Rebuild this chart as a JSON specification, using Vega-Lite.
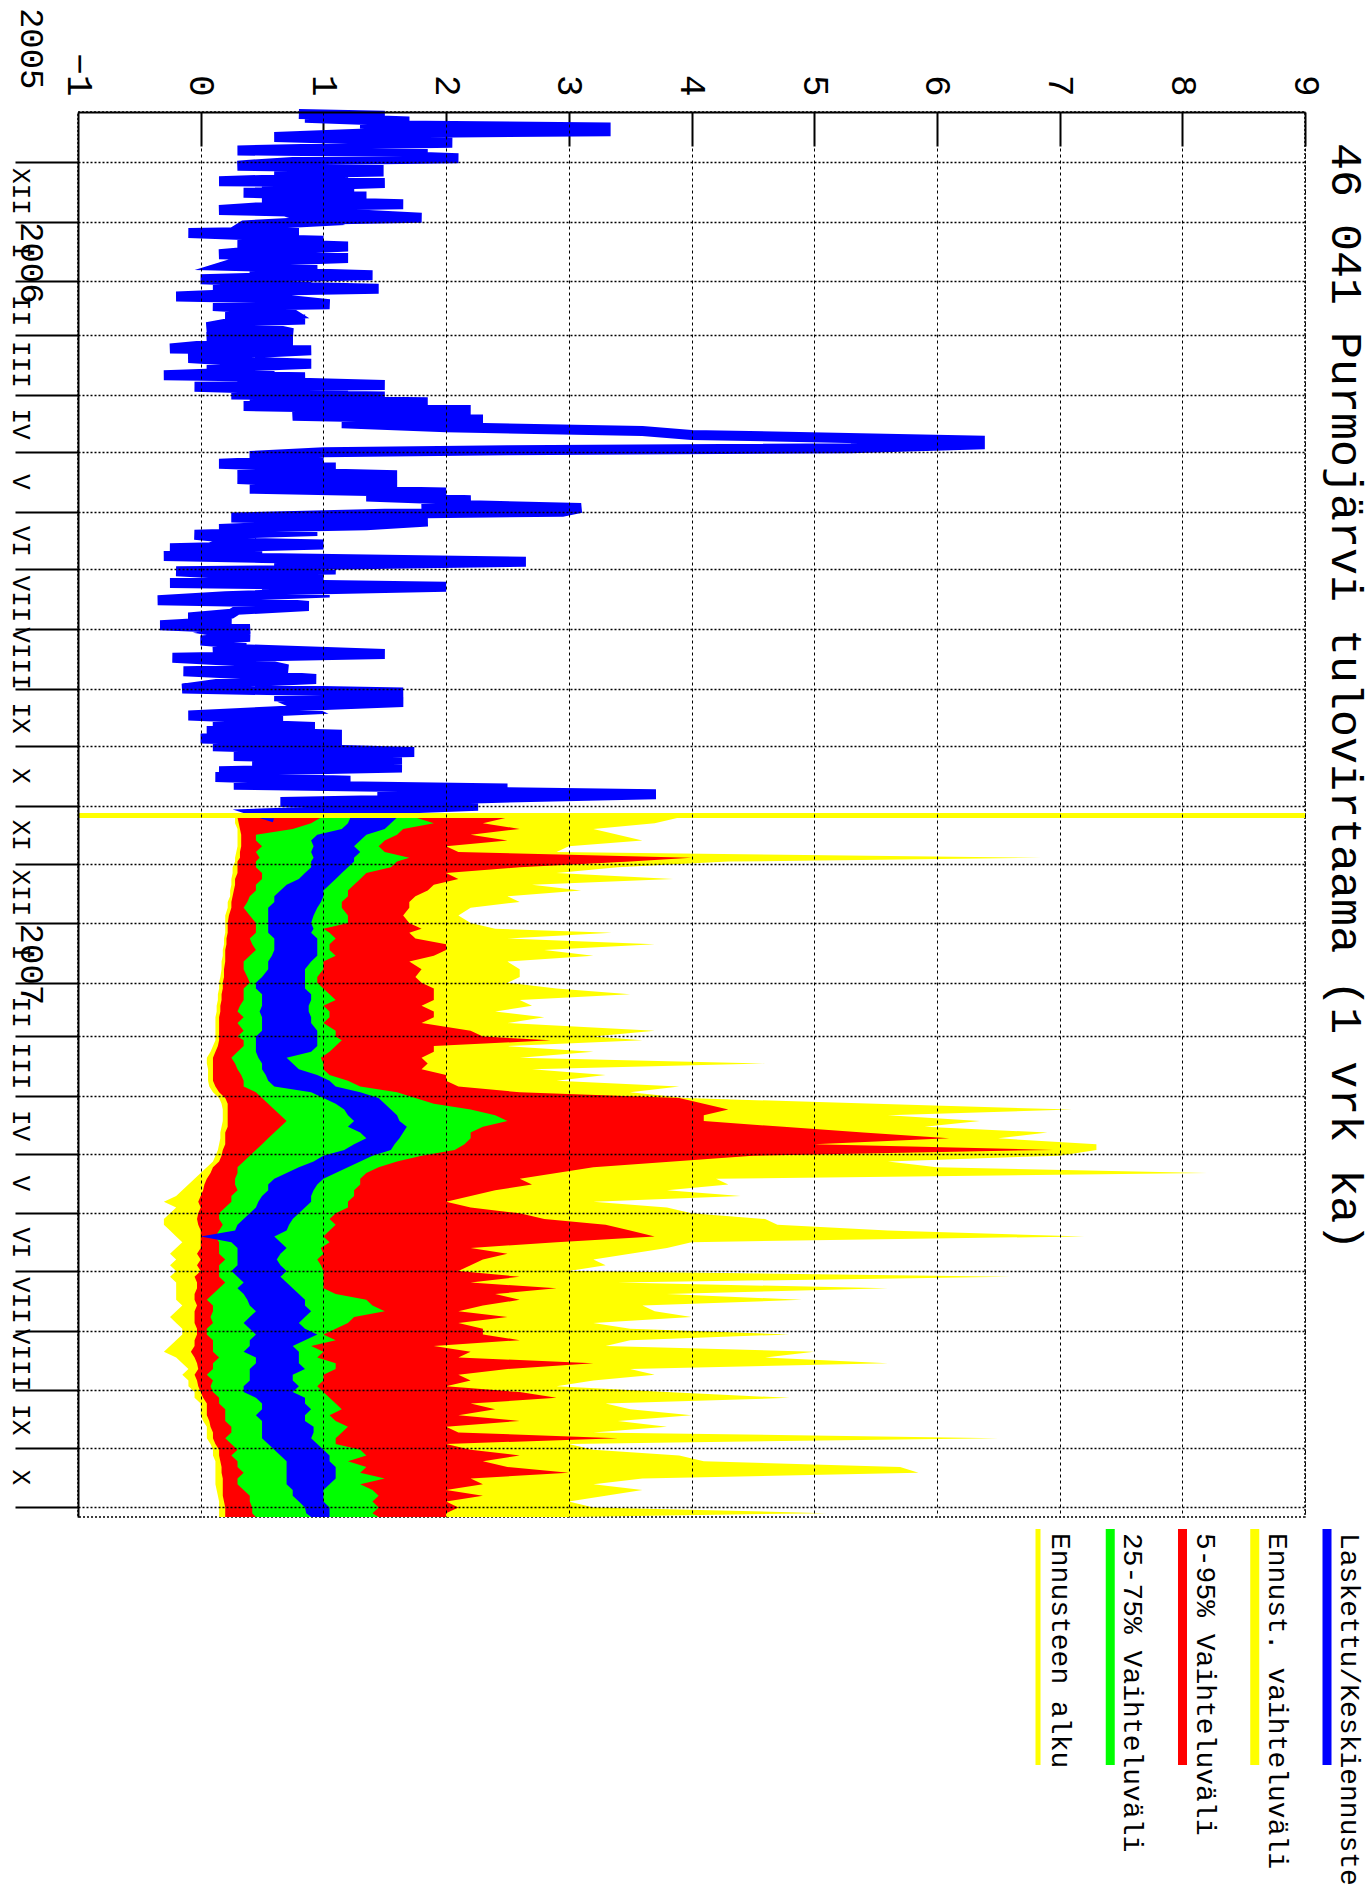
{
"$schema": "https://vega.github.io/schema/vega-lite/v6.json",
"background": "white",
"autosize": {"type": "pad"},
"padding": {"left": 6, "top": 6, "right": 0, "bottom": 0},
"spacing": 12,
"bounds": "flush",
"config": {"font": "Liberation Mono", "view": {"stroke": "black", "strokeDash": [2, 2], "strokeWidth": 1.5}},
"datasets": {
"hist": [
{"d":"2005-11-06","v":0.8},{"d":"2005-11-07","v":1.5},{"d":"2005-11-08","v":0.85},{"d":"2005-11-10","v":1.7},{"d":"2005-11-11","v":1.3},{"d":"2005-11-12","v":1.6},{"d":"2005-11-13","v":3.3},{"d":"2005-11-15","v":3.3},{"d":"2005-11-16","v":1.4},{"d":"2005-11-18","v":0.6},{"d":"2005-11-19","v":1.2},{"d":"2005-11-21","v":2.05},{"d":"2005-11-22","v":1.0},{"d":"2005-11-23","v":1.8},{"d":"2005-11-25","v":0.3},{"d":"2005-11-26","v":1.85},{"d":"2005-11-27","v":1.2},{"d":"2005-11-29","v":2.1},{"d":"2005-11-30","v":1.0},
{"d":"2005-12-02","v":0.5},{"d":"2005-12-03","v":0.3},{"d":"2005-12-04","v":1.45},{"d":"2005-12-06","v":1.45},{"d":"2005-12-07","v":0.6},{"d":"2005-12-09","v":1.2},{"d":"2005-12-11","v":0.15},{"d":"2005-12-12","v":1.5},{"d":"2005-12-14","v":0.5},{"d":"2005-12-16","v":1.25},{"d":"2005-12-17","v":0.35},{"d":"2005-12-19","v":1.35},{"d":"2005-12-21","v":0.5},{"d":"2005-12-23","v":1.65},{"d":"2005-12-24","v":0.6},{"d":"2005-12-26","v":0.15},{"d":"2005-12-27","v":0.9},{"d":"2005-12-30","v":1.8},{"d":"2005-12-31","v":0.9},
{"d":"2006-01-01","v":0.95},{"d":"2006-01-03","v":0.35},{"d":"2006-01-05","v":0.3},{"d":"2006-01-06","v":0.8},{"d":"2006-01-07","v":-0.1},{"d":"2006-01-09","v":0.8},{"d":"2006-01-10","v":0.4},{"d":"2006-01-11","v":1.0},{"d":"2006-01-12","v":0.3},{"d":"2006-01-14","v":1.2},{"d":"2006-01-16","v":0.5},{"d":"2006-01-18","v":0.15},{"d":"2006-01-19","v":0.8},{"d":"2006-01-20","v":1.2},{"d":"2006-01-22","v":0.3},{"d":"2006-01-24","v":0.2},{"d":"2006-01-25","v":0.95},{"d":"2006-01-27","v":0.4},{"d":"2006-01-29","v":1.4},{"d":"2006-01-30","v":0.6},{"d":"2006-01-31","v":0.0},
{"d":"2006-02-02","v":0.9},{"d":"2006-02-03","v":0.1},{"d":"2006-02-05","v":1.45},{"d":"2006-02-06","v":0.5},{"d":"2006-02-08","v":0.2},{"d":"2006-02-09","v":-0.2},{"d":"2006-02-10","v":0.6},{"d":"2006-02-13","v":1.05},{"d":"2006-02-14","v":0.1},{"d":"2006-02-16","v":0.7},{"d":"2006-02-18","v":0.75},{"d":"2006-02-19","v":0.2},{"d":"2006-02-21","v":0.85},{"d":"2006-02-22","v":0.3},{"d":"2006-02-25","v":0.05},{"d":"2006-02-26","v":0.6},{"d":"2006-02-28","v":0.75},
{"d":"2006-03-01","v":0.2},{"d":"2006-03-02","v":0.05},{"d":"2006-03-03","v":0.5},{"d":"2006-03-04","v":0.75},{"d":"2006-03-06","v":0.1},{"d":"2006-03-08","v":-0.25},{"d":"2006-03-09","v":0.9},{"d":"2006-03-11","v":0.2},{"d":"2006-03-13","v":-0.1},{"d":"2006-03-15","v":0.4},{"d":"2006-03-16","v":0.9},{"d":"2006-03-18","v":0.05},{"d":"2006-03-20","v":0.6},{"d":"2006-03-22","v":-0.3},{"d":"2006-03-23","v":0.85},{"d":"2006-03-25","v":0.3},{"d":"2006-03-27","v":1.5},{"d":"2006-03-28","v":-0.05},{"d":"2006-03-30","v":1.2},
{"d":"2006-04-01","v":0.25},{"d":"2006-04-02","v":1.5},{"d":"2006-04-04","v":0.4},{"d":"2006-04-05","v":1.85},{"d":"2006-04-07","v":0.35},{"d":"2006-04-09","v":2.2},{"d":"2006-04-10","v":1.0},{"d":"2006-04-12","v":0.75},{"d":"2006-04-14","v":2.3},{"d":"2006-04-16","v":1.15},{"d":"2006-04-18","v":2.0},{"d":"2006-04-20","v":3.6},{"d":"2006-04-22","v":4.0},{"d":"2006-04-25","v":6.35},{"d":"2006-04-27","v":6.35},{"d":"2006-04-29","v":5.3},{"d":"2006-04-30","v":2.5},
{"d":"2006-05-01","v":1.0},{"d":"2006-05-03","v":0.4},{"d":"2006-05-05","v":1.0},{"d":"2006-05-07","v":0.15},{"d":"2006-05-09","v":1.1},{"d":"2006-05-11","v":0.3},{"d":"2006-05-13","v":1.6},{"d":"2006-05-15","v":0.3},{"d":"2006-05-18","v":1.6},{"d":"2006-05-20","v":0.4},{"d":"2006-05-22","v":2.0},{"d":"2006-05-24","v":1.35},{"d":"2006-05-26","v":2.2},{"d":"2006-05-28","v":1.8},{"d":"2006-05-30","v":3.1},
{"d":"2006-06-01","v":2.95},{"d":"2006-06-02","v":1.5},{"d":"2006-06-04","v":0.25},{"d":"2006-06-06","v":1.85},{"d":"2006-06-08","v":1.35},{"d":"2006-06-09","v":0.5},{"d":"2006-06-10","v":0.15},{"d":"2006-06-11","v":0.95},{"d":"2006-06-13","v":-0.05},{"d":"2006-06-15","v":0.3},{"d":"2006-06-17","v":0.2},{"d":"2006-06-18","v":1.0},{"d":"2006-06-20","v":-0.25},{"d":"2006-06-22","v":0.5},{"d":"2006-06-24","v":-0.3},{"d":"2006-06-25","v":0.5},{"d":"2006-06-27","v":2.65},{"d":"2006-06-29","v":0.6},
{"d":"2006-07-01","v":1.1},{"d":"2006-07-02","v":-0.2},{"d":"2006-07-04","v":0.4},{"d":"2006-07-05","v":1.0},{"d":"2006-07-07","v":0.4},{"d":"2006-07-08","v":-0.25},{"d":"2006-07-10","v":2.0},{"d":"2006-07-12","v":0.5},{"d":"2006-07-13","v":1.05},{"d":"2006-07-15","v":0.2},{"d":"2006-07-17","v":-0.35},{"d":"2006-07-18","v":0.5},{"d":"2006-07-20","v":0.88},{"d":"2006-07-22","v":0.3},{"d":"2006-07-24","v":0.25},{"d":"2006-07-26","v":-0.1},{"d":"2006-07-28","v":0.25},{"d":"2006-07-30","v":-0.33},
{"d":"2006-08-01","v":0.4},{"d":"2006-08-03","v":0.2},{"d":"2006-08-05","v":0.4},{"d":"2006-08-07","v":0.0},{"d":"2006-08-09","v":0.37},{"d":"2006-08-11","v":0.1},{"d":"2006-08-14","v":1.5},{"d":"2006-08-16","v":-0.23},{"d":"2006-08-18","v":0.4},{"d":"2006-08-20","v":0.57},{"d":"2006-08-22","v":0.71},{"d":"2006-08-23","v":-0.14},{"d":"2006-08-25","v":0.5},{"d":"2006-08-27","v":0.94},{"d":"2006-08-29","v":0.2},
{"d":"2006-09-01","v":-0.15},{"d":"2006-09-03","v":1.65},{"d":"2006-09-05","v":0.6},{"d":"2006-09-08","v":1.65},{"d":"2006-09-10","v":0.8},{"d":"2006-09-12","v":0.87},{"d":"2006-09-15","v":-0.1},{"d":"2006-09-17","v":0.67},{"d":"2006-09-19","v":0.1},{"d":"2006-09-21","v":0.93},{"d":"2006-09-23","v":0.05},{"d":"2006-09-25","v":1.15},{"d":"2006-09-27","v":0.0},{"d":"2006-09-29","v":1.15},
{"d":"2006-10-01","v":0.1},{"d":"2006-10-04","v":1.74},{"d":"2006-10-06","v":0.27},{"d":"2006-10-08","v":1.64},{"d":"2006-10-10","v":0.42},{"d":"2006-10-12","v":1.64},{"d":"2006-10-14","v":0.15},{"d":"2006-10-16","v":1.01},{"d":"2006-10-17","v":0.12},{"d":"2006-10-19","v":1.22},{"d":"2006-10-21","v":0.27},{"d":"2006-10-23","v":2.5},{"d":"2006-10-24","v":1.44},{"d":"2006-10-26","v":3.71},{"d":"2006-10-28","v":2.3},{"d":"2006-10-30","v":0.65},
{"d":"2006-11-01","v":2.26},{"d":"2006-11-03","v":1.4},{"d":"2006-11-05","v":0.5},{"d":"2006-11-07","v":0.6}
],
"fc": [
{"d":"2006-11-07","mn":0.28,"p5":0.30,"p25":0.98,"b1":1.22,"b2":1.6,"p75":1.75,"p95":2.5,"mx":3.9},
{"d":"2006-11-10","mn":0.28,"p5":0.31,"p25":0.9,"b1":1.2,"b2":1.55,"p75":1.9,"p95":2.3,"mx":3.7},
{"d":"2006-11-13","mn":0.3,"p5":0.32,"p25":0.75,"b1":1.15,"b2":1.5,"p75":1.65,"p95":2.6,"mx":3.2},
{"d":"2006-11-16","mn":0.3,"p5":0.33,"p25":0.45,"b1":0.95,"b2":1.35,"p75":1.6,"p95":2.2,"mx":3.4},
{"d":"2006-11-19","mn":0.3,"p5":0.33,"p25":0.45,"b1":0.9,"b2":1.3,"p75":1.5,"p95":2.5,"mx":3.6},
{"d":"2006-11-22","mn":0.3,"p5":0.33,"p25":0.5,"b1":0.92,"b2":1.25,"p75":1.45,"p95":2.0,"mx":3.0},
{"d":"2006-11-25","mn":0.29,"p5":0.32,"p25":0.45,"b1":0.9,"b2":1.3,"p75":1.5,"p95":2.1,"mx":2.9},
{"d":"2006-11-28","mn":0.28,"p5":0.32,"p25":0.48,"b1":0.92,"b2":1.25,"p75":1.7,"p95":4.0,"mx":6.85},
{"d":"2006-11-30","mn":0.28,"p5":0.3,"p25":0.45,"b1":0.9,"b2":1.25,"p75":1.6,"p95":3.5,"mx":4.3},
{"d":"2006-12-03","mn":0.26,"p5":0.3,"p25":0.45,"b1":0.9,"b2":1.2,"p75":1.55,"p95":2.6,"mx":3.4},
{"d":"2006-12-06","mn":0.26,"p5":0.3,"p25":0.5,"b1":0.85,"b2":1.15,"p75":1.35,"p95":2.0,"mx":2.9},
{"d":"2006-12-09","mn":0.25,"p5":0.28,"p25":0.5,"b1":0.8,"b2":1.1,"p75":1.3,"p95":2.1,"mx":3.85},
{"d":"2006-12-12","mn":0.25,"p5":0.28,"p25":0.45,"b1":0.7,"b2":1.05,"p75":1.25,"p95":1.9,"mx":2.7},
{"d":"2006-12-15","mn":0.24,"p5":0.27,"p25":0.45,"b1":0.65,"b2":1.0,"p75":1.2,"p95":1.85,"mx":3.1},
{"d":"2006-12-18","mn":0.24,"p5":0.26,"p25":0.4,"b1":0.6,"b2":1.0,"p75":1.2,"p95":1.75,"mx":2.5},
{"d":"2006-12-21","mn":0.22,"p5":0.25,"p25":0.38,"b1":0.6,"b2":0.98,"p75":1.15,"p95":1.7,"mx":2.6},
{"d":"2006-12-24","mn":0.22,"p5":0.25,"p25":0.35,"b1":0.55,"b2":0.95,"p75":1.15,"p95":1.7,"mx":2.2},
{"d":"2006-12-28","mn":0.2,"p5":0.23,"p25":0.4,"b1":0.55,"b2":0.92,"p75":1.2,"p95":1.65,"mx":2.1},
{"d":"2007-01-01","mn":0.2,"p5":0.22,"p25":0.45,"b1":0.55,"b2":0.9,"p75":1.2,"p95":1.7,"mx":2.2},
{"d":"2007-01-04","mn":0.2,"p5":0.22,"p25":0.45,"b1":0.55,"b2":0.92,"p75":1.0,"p95":1.8,"mx":2.4},
{"d":"2007-01-06","mn":0.2,"p5":0.22,"p25":0.45,"b1":0.55,"b2":0.9,"p75":1.05,"p95":1.7,"mx":3.35},
{"d":"2007-01-09","mn":0.19,"p5":0.21,"p25":0.4,"b1":0.6,"b2":0.95,"p75":1.1,"p95":1.75,"mx":2.5},
{"d":"2007-01-12","mn":0.19,"p5":0.21,"p25":0.42,"b1":0.6,"b2":0.95,"p75":1.05,"p95":2.0,"mx":3.7},
{"d":"2007-01-15","mn":0.18,"p5":0.2,"p25":0.45,"b1":0.6,"b2":0.95,"p75":1.05,"p95":2.0,"mx":2.8},
{"d":"2007-01-18","mn":0.18,"p5":0.2,"p25":0.4,"b1":0.58,"b2":0.95,"p75":1.1,"p95":1.9,"mx":3.2},
{"d":"2007-01-21","mn":0.17,"p5":0.2,"p25":0.35,"b1":0.55,"b2":0.9,"p75":1.0,"p95":1.7,"mx":2.5},
{"d":"2007-01-25","mn":0.17,"p5":0.19,"p25":0.35,"b1":0.55,"b2":0.85,"p75":1.0,"p95":1.8,"mx":2.6},
{"d":"2007-01-29","mn":0.16,"p5":0.19,"p25":0.38,"b1":0.5,"b2":0.85,"p75":0.95,"p95":1.75,"mx":2.6},
{"d":"2007-02-01","mn":0.15,"p5":0.18,"p25":0.4,"b1":0.45,"b2":0.85,"p75":0.95,"p95":1.8,"mx":2.5},
{"d":"2007-02-04","mn":0.15,"p5":0.18,"p25":0.35,"b1":0.45,"b2":0.85,"p75":1.0,"p95":1.9,"mx":2.9},
{"d":"2007-02-07","mn":0.14,"p5":0.17,"p25":0.35,"b1":0.5,"b2":0.9,"p75":1.05,"p95":1.9,"mx":3.5},
{"d":"2007-02-10","mn":0.14,"p5":0.17,"p25":0.35,"b1":0.5,"b2":0.9,"p75":1.1,"p95":1.9,"mx":2.6},
{"d":"2007-02-13","mn":0.13,"p5":0.16,"p25":0.32,"b1":0.5,"b2":0.88,"p75":1.0,"p95":1.8,"mx":2.7},
{"d":"2007-02-16","mn":0.13,"p5":0.16,"p25":0.3,"b1":0.48,"b2":0.88,"p75":1.05,"p95":1.9,"mx":2.4},
{"d":"2007-02-19","mn":0.12,"p5":0.15,"p25":0.35,"b1":0.5,"b2":0.9,"p75":1.05,"p95":1.9,"mx":2.8},
{"d":"2007-02-22","mn":0.12,"p5":0.15,"p25":0.3,"b1":0.5,"b2":0.9,"p75":1.0,"p95":1.8,"mx":2.5},
{"d":"2007-02-26","mn":0.12,"p5":0.15,"p25":0.35,"b1":0.5,"b2":0.95,"p75":1.1,"p95":2.2,"mx":3.7},
{"d":"2007-03-01","mn":0.12,"p5":0.15,"p25":0.3,"b1":0.45,"b2":0.95,"p75":1.1,"p95":2.3,"mx":3.2},
{"d":"2007-03-03","mn":0.12,"p5":0.15,"p25":0.35,"b1":0.45,"b2":0.95,"p75":1.15,"p95":2.85,"mx":3.6},
{"d":"2007-03-06","mn":0.1,"p5":0.14,"p25":0.35,"b1":0.45,"b2":0.95,"p75":1.1,"p95":1.9,"mx":2.5},
{"d":"2007-03-09","mn":0.08,"p5":0.12,"p25":0.3,"b1":0.45,"b2":0.9,"p75":1.05,"p95":1.9,"mx":3.2},
{"d":"2007-03-12","mn":0.05,"p5":0.1,"p25":0.25,"b1":0.47,"b2":0.7,"p75":0.98,"p95":1.8,"mx":2.6},
{"d":"2007-03-15","mn":0.05,"p5":0.1,"p25":0.28,"b1":0.5,"b2":0.75,"p75":1.0,"p95":1.85,"mx":4.6},
{"d":"2007-03-18","mn":0.06,"p5":0.1,"p25":0.3,"b1":0.5,"b2":0.8,"p75":1.0,"p95":1.8,"mx":2.7},
{"d":"2007-03-21","mn":0.06,"p5":0.1,"p25":0.33,"b1":0.53,"b2":0.95,"p75":1.05,"p95":2.0,"mx":3.3},
{"d":"2007-03-24","mn":0.06,"p5":0.1,"p25":0.35,"b1":0.55,"b2":1.05,"p75":1.2,"p95":2.0,"mx":2.9},
{"d":"2007-03-27","mn":0.07,"p5":0.12,"p25":0.35,"b1":0.6,"b2":1.1,"p75":1.3,"p95":2.1,"mx":3.9},
{"d":"2007-03-30","mn":0.1,"p5":0.15,"p25":0.45,"b1":0.9,"b2":1.3,"p75":1.6,"p95":2.6,"mx":3.5},
{"d":"2007-04-02","mn":0.15,"p5":0.2,"p25":0.5,"b1":1.0,"b2":1.45,"p75":1.75,"p95":3.9,"mx":3.95},
{"d":"2007-04-05","mn":0.17,"p5":0.22,"p25":0.55,"b1":1.1,"b2":1.5,"p75":1.9,"p95":4.1,"mx":5.5},
{"d":"2007-04-08","mn":0.18,"p5":0.22,"p25":0.6,"b1":1.17,"b2":1.55,"p75":2.2,"p95":4.3,"mx":7.1},
{"d":"2007-04-11","mn":0.18,"p5":0.22,"p25":0.65,"b1":1.2,"b2":1.6,"p75":2.4,"p95":4.1,"mx":5.6},
{"d":"2007-04-14","mn":0.18,"p5":0.22,"p25":0.7,"b1":1.25,"b2":1.62,"p75":2.5,"p95":4.1,"mx":6.35},
{"d":"2007-04-17","mn":0.17,"p5":0.22,"p25":0.65,"b1":1.2,"b2":1.68,"p75":2.3,"p95":4.75,"mx":5.9},
{"d":"2007-04-20","mn":0.16,"p5":0.2,"p25":0.6,"b1":1.3,"b2":1.65,"p75":2.2,"p95":5.4,"mx":6.9},
{"d":"2007-04-23","mn":0.16,"p5":0.2,"p25":0.55,"b1":1.35,"b2":1.62,"p75":2.2,"p95":6.1,"mx":6.5},
{"d":"2007-04-26","mn":0.15,"p5":0.2,"p25":0.5,"b1":1.25,"b2":1.58,"p75":2.15,"p95":5.0,"mx":7.3},
{"d":"2007-04-29","mn":0.14,"p5":0.18,"p25":0.45,"b1":1.17,"b2":1.55,"p75":2.07,"p95":6.95,"mx":7.3},
{"d":"2007-05-02","mn":0.12,"p5":0.17,"p25":0.4,"b1":1.0,"b2":1.4,"p75":1.8,"p95":4.5,"mx":7.0},
{"d":"2007-05-05","mn":0.1,"p5":0.15,"p25":0.35,"b1":0.92,"b2":1.3,"p75":1.6,"p95":3.85,"mx":5.6},
{"d":"2007-05-08","mn":0.05,"p5":0.1,"p25":0.3,"b1":0.8,"b2":1.2,"p75":1.45,"p95":3.2,"mx":6.0},
{"d":"2007-05-11","mn":0.0,"p5":0.08,"p25":0.3,"b1":0.7,"b2":1.1,"p75":1.35,"p95":2.9,"mx":8.2},
{"d":"2007-05-14","mn":-0.05,"p5":0.05,"p25":0.28,"b1":0.6,"b2":1.0,"p75":1.3,"p95":2.6,"mx":4.2},
{"d":"2007-05-17","mn":-0.1,"p5":0.03,"p25":0.28,"b1":0.55,"b2":0.95,"p75":1.3,"p95":2.7,"mx":4.3},
{"d":"2007-05-20","mn":-0.15,"p5":0.02,"p25":0.3,"b1":0.55,"b2":0.92,"p75":1.25,"p95":2.4,"mx":3.8},
{"d":"2007-05-23","mn":-0.2,"p5":0.0,"p25":0.25,"b1":0.5,"b2":0.9,"p75":1.25,"p95":2.2,"mx":4.4},
{"d":"2007-05-26","mn":-0.3,"p5":-0.02,"p25":0.25,"b1":0.47,"b2":0.9,"p75":1.2,"p95":2.0,"mx":3.2},
{"d":"2007-05-29","mn":-0.2,"p5":0.0,"p25":0.2,"b1":0.45,"b2":0.85,"p75":1.2,"p95":2.2,"mx":3.8},
{"d":"2007-06-01","mn":-0.25,"p5":-0.02,"p25":0.15,"b1":0.4,"b2":0.8,"p75":1.1,"p95":2.6,"mx":4.0},
{"d":"2007-06-04","mn":-0.3,"p5":-0.03,"p25":0.15,"b1":0.35,"b2":0.75,"p75":1.05,"p95":2.8,"mx":4.6},
{"d":"2007-06-07","mn":-0.3,"p5":-0.02,"p25":0.18,"b1":0.3,"b2":0.72,"p75":1.1,"p95":3.3,"mx":4.7},
{"d":"2007-06-10","mn":-0.25,"p5":0.0,"p25":0.15,"b1":0.28,"b2":0.7,"p75":1.05,"p95":3.5,"mx":5.6},
{"d":"2007-06-13","mn":-0.2,"p5":0.0,"p25":0.12,"b1":0.0,"b2":0.6,"p75":1.0,"p95":3.7,"mx":7.2},
{"d":"2007-06-16","mn":-0.15,"p5":0.0,"p25":0.15,"b1":0.25,"b2":0.65,"p75":1.05,"p95":2.9,"mx":4.0},
{"d":"2007-06-19","mn":-0.2,"p5":0.0,"p25":0.15,"b1":0.3,"b2":0.7,"p75":0.98,"p95":2.2,"mx":3.8},
{"d":"2007-06-22","mn":-0.25,"p5":-0.03,"p25":0.15,"b1":0.3,"b2":0.65,"p75":1.0,"p95":2.5,"mx":3.5},
{"d":"2007-06-25","mn":-0.2,"p5":0.0,"p25":0.2,"b1":0.3,"b2":0.62,"p75":0.95,"p95":2.3,"mx":3.2},
{"d":"2007-06-28","mn":-0.25,"p5":-0.03,"p25":0.15,"b1":0.3,"b2":0.65,"p75":0.98,"p95":2.2,"mx":3.3},
{"d":"2007-07-01","mn":-0.2,"p5":0.0,"p25":0.15,"b1":0.25,"b2":0.7,"p75":1.0,"p95":2.1,"mx":3.0},
{"d":"2007-07-04","mn":-0.25,"p5":-0.05,"p25":0.15,"b1":0.3,"b2":0.65,"p75":1.0,"p95":2.6,"mx":6.6},
{"d":"2007-07-07","mn":-0.2,"p5":-0.03,"p25":0.2,"b1":0.35,"b2":0.7,"p75":1.0,"p95":2.2,"mx":3.4},
{"d":"2007-07-10","mn":-0.2,"p5":-0.03,"p25":0.15,"b1":0.3,"b2":0.75,"p75":1.0,"p95":2.9,"mx":5.6},
{"d":"2007-07-13","mn":-0.2,"p5":-0.05,"p25":0.1,"b1":0.35,"b2":0.8,"p75":1.1,"p95":2.4,"mx":3.8},
{"d":"2007-07-16","mn":-0.2,"p5":-0.05,"p25":0.05,"b1":0.38,"b2":0.85,"p75":1.35,"p95":2.6,"mx":4.9},
{"d":"2007-07-19","mn":-0.15,"p5":-0.03,"p25":0.1,"b1":0.4,"b2":0.85,"p75":1.4,"p95":2.3,"mx":3.6},
{"d":"2007-07-22","mn":-0.2,"p5":-0.05,"p25":0.1,"b1":0.45,"b2":0.9,"p75":1.5,"p95":2.1,"mx":3.7},
{"d":"2007-07-25","mn":-0.25,"p5":-0.05,"p25":0.08,"b1":0.4,"b2":0.85,"p75":1.25,"p95":2.5,"mx":4.0},
{"d":"2007-07-28","mn":-0.2,"p5":-0.05,"p25":0.1,"b1":0.35,"b2":0.8,"p75":1.2,"p95":2.1,"mx":3.2},
{"d":"2007-07-31","mn":-0.15,"p5":-0.03,"p25":0.05,"b1":0.4,"b2":0.85,"p75":1.1,"p95":2.3,"mx":3.5},
{"d":"2007-08-03","mn":-0.15,"p5":-0.03,"p25":0.05,"b1":0.45,"b2":0.95,"p75":1.0,"p95":2.3,"mx":4.8},
{"d":"2007-08-06","mn":-0.2,"p5":-0.05,"p25":0.1,"b1":0.4,"b2":0.85,"p75":1.1,"p95":2.6,"mx":3.5},
{"d":"2007-08-09","mn":-0.25,"p5":-0.05,"p25":0.1,"b1":0.4,"b2":0.75,"p75":0.9,"p95":1.9,"mx":3.3},
{"d":"2007-08-12","mn":-0.3,"p5":-0.08,"p25":0.1,"b1":0.35,"b2":0.8,"p75":1.0,"p95":2.2,"mx":5.0},
{"d":"2007-08-15","mn":-0.2,"p5":-0.05,"p25":0.15,"b1":0.45,"b2":0.8,"p75":0.95,"p95":2.1,"mx":4.6},
{"d":"2007-08-18","mn":-0.15,"p5":-0.03,"p25":0.1,"b1":0.45,"b2":0.8,"p75":1.1,"p95":3.2,"mx":5.6},
{"d":"2007-08-21","mn":-0.1,"p5":-0.02,"p25":0.1,"b1":0.4,"b2":0.85,"p75":1.1,"p95":2.5,"mx":3.5},
{"d":"2007-08-24","mn":-0.15,"p5":-0.05,"p25":0.05,"b1":0.4,"b2":0.75,"p75":1.0,"p95":2.1,"mx":3.7},
{"d":"2007-08-27","mn":-0.1,"p5":-0.03,"p25":0.1,"b1":0.4,"b2":0.75,"p75":1.0,"p95":2.2,"mx":3.2},
{"d":"2007-08-30","mn":-0.1,"p5":-0.02,"p25":0.08,"b1":0.35,"b2":0.8,"p75":0.95,"p95":2.0,"mx":2.9},
{"d":"2007-09-02","mn":-0.05,"p5":0.0,"p25":0.1,"b1":0.35,"b2":0.75,"p75":1.0,"p95":2.6,"mx":3.8},
{"d":"2007-09-05","mn":-0.05,"p5":0.02,"p25":0.15,"b1":0.45,"b2":0.85,"p75":1.05,"p95":2.9,"mx":4.8},
{"d":"2007-09-08","mn":0.0,"p5":0.05,"p25":0.15,"b1":0.5,"b2":0.85,"p75":1.1,"p95":2.2,"mx":3.3},
{"d":"2007-09-11","mn":0.0,"p5":0.05,"p25":0.2,"b1":0.5,"b2":0.9,"p75":1.15,"p95":2.4,"mx":3.5},
{"d":"2007-09-14","mn":0.0,"p5":0.05,"p25":0.2,"b1":0.45,"b2":0.85,"p75":1.05,"p95":2.1,"mx":4.0},
{"d":"2007-09-17","mn":0.02,"p5":0.07,"p25":0.2,"b1":0.5,"b2":0.85,"p75":1.1,"p95":2.6,"mx":3.4},
{"d":"2007-09-20","mn":0.05,"p5":0.08,"p25":0.25,"b1":0.5,"b2":0.92,"p75":1.2,"p95":2.0,"mx":3.8},
{"d":"2007-09-23","mn":0.05,"p5":0.1,"p25":0.25,"b1":0.5,"b2":0.92,"p75":1.15,"p95":2.1,"mx":3.2},
{"d":"2007-09-26","mn":0.05,"p5":0.1,"p25":0.2,"b1":0.5,"b2":0.9,"p75":1.1,"p95":3.4,"mx":6.5},
{"d":"2007-09-29","mn":0.08,"p5":0.12,"p25":0.25,"b1":0.55,"b2":0.95,"p75":1.1,"p95":2.0,"mx":3.0},
{"d":"2007-10-02","mn":0.1,"p5":0.15,"p25":0.3,"b1":0.6,"b2":1.0,"p75":1.3,"p95":2.2,"mx":3.2},
{"d":"2007-10-05","mn":0.1,"p5":0.15,"p25":0.25,"b1":0.65,"b2":1.05,"p75":1.35,"p95":2.6,"mx":3.9},
{"d":"2007-10-08","mn":0.12,"p5":0.16,"p25":0.3,"b1":0.7,"b2":1.05,"p75":1.2,"p95":2.3,"mx":4.1},
{"d":"2007-10-11","mn":0.12,"p5":0.17,"p25":0.3,"b1":0.7,"b2":1.1,"p75":1.35,"p95":2.5,"mx":5.7},
{"d":"2007-10-14","mn":0.12,"p5":0.17,"p25":0.35,"b1":0.7,"b2":1.1,"p75":1.3,"p95":3.0,"mx":5.85},
{"d":"2007-10-17","mn":0.12,"p5":0.18,"p25":0.3,"b1":0.7,"b2":1.1,"p75":1.5,"p95":2.2,"mx":3.6},
{"d":"2007-10-20","mn":0.12,"p5":0.18,"p25":0.3,"b1":0.7,"b2":1.05,"p75":1.3,"p95":2.3,"mx":3.2},
{"d":"2007-10-23","mn":0.13,"p5":0.18,"p25":0.35,"b1":0.75,"b2":1.0,"p75":1.4,"p95":2.0,"mx":3.6},
{"d":"2007-10-26","mn":0.14,"p5":0.18,"p25":0.4,"b1":0.75,"b2":1.0,"p75":1.45,"p95":2.3,"mx":3.3},
{"d":"2007-10-29","mn":0.15,"p5":0.19,"p25":0.4,"b1":0.8,"b2":1.0,"p75":1.4,"p95":2.0,"mx":3.0},
{"d":"2007-11-01","mn":0.15,"p5":0.2,"p25":0.42,"b1":0.85,"b2":1.05,"p75":1.45,"p95":2.1,"mx":3.2},
{"d":"2007-11-04","mn":0.15,"p5":0.2,"p25":0.42,"b1":0.86,"b2":1.05,"p75":1.4,"p95":2.0,"mx":5.1},
{"d":"2007-11-06","mn":0.15,"p5":0.2,"p25":0.45,"b1":0.9,"b2":1.05,"p75":1.45,"p95":2.0,"mx":3.0}
],
"start": [{"d":"2006-11-06"}],
"legend": [{"k":"Ennusteen alku"},{"k":"25-75% Vaihteluväli"},{"k":"5-95% Vaihteluväli"},{"k":"Ennust. vaihteluväli"},{"k":"Laskettu/Keskiennuste"}]
},
"vconcat": [
{
"width": 1227,
"height": 1405,
"title": {"text": "46 041 Purmojärvi tulovirtaama (1 vrk ka)", "orient": "right", "anchor": "start", "frame": "group", "font": "Liberation Mono", "fontSize": 45, "fontWeight": "normal", "color": "black", "offset": 0, "dx": 31},
"resolve": {"axis": {"x": "independent", "y": "independent"}},
"layer": [
{"data": {"name": "fc"}, "mark": {"type": "area", "orient": "horizontal", "color": "#ffff00"},
 "encoding": {
  "x": {"field": "mn", "type": "quantitative", "scale": {"domain": [-1, 9], "nice": false, "zero": false},
   "axis": {"orient": "top", "values": [-1,0,1,2,3,4,5,6,7,8,9], "ticks": false, "domain": true, "domainColor": "black", "domainWidth": 2, "grid": true, "gridColor": "black", "gridDash": [3, 3], "gridWidth": 1, "labelAngle": 90, "labelAlign": "right", "labelBaseline": "middle", "labelPadding": 16, "labelFont": "Liberation Mono", "labelFontSize": 36, "labelColor": "black", "labelFlush": false, "labelOverlap": false, "title": null, "zindex": 1}},
  "x2": {"field": "mx"},
  "y": {"field": "d", "type": "temporal", "scale": {"type": "utc", "domain": [{"year": 2005, "month": 11, "date": 5, "utc": true}, {"year": 2007, "month": 11, "date": 6, "utc": true}], "reverse": true, "nice": false},
   "axis": {"orient": "left", "tickCount": {"interval": "month", "step": 1}, "ticks": true, "tickSize": 63, "tickWidth": 2, "tickColor": "black", "domain": true, "domainColor": "black", "domainWidth": 2, "grid": true, "gridColor": "black", "gridDash": [2, 2], "gridWidth": 1.5, "labelAngle": 90, "labelAlign": "center", "labelBaseline": "top", "labelOffset": 29, "labelPadding": -18, "labelFont": "Liberation Mono", "labelFontSize": 26, "labelColor": "black", "labelOverlap": false, "labelBound": false, "labelFlush": false, "title": null, "zindex": 1,
    "labelExpr": "(utcyear(datum.value) == 2007 && utcmonth(datum.value) == 10) ? '' : ['I','II','III','IV','V','VI','VII','VIII','IX','X','XI','XII'][utcmonth(datum.value)]"}}
 }},
{"data": {"name": "fc"}, "mark": {"type": "area", "orient": "horizontal", "color": "#ff0000"},
 "encoding": {"x": {"field": "p5", "type": "quantitative", "axis": null}, "x2": {"field": "p95"}, "y": {"field": "d", "type": "temporal", "axis": null}}},
{"data": {"name": "fc"}, "mark": {"type": "area", "orient": "horizontal", "color": "#00ff00"},
 "encoding": {"x": {"field": "p25", "type": "quantitative", "axis": null}, "x2": {"field": "p75"}, "y": {"field": "d", "type": "temporal", "axis": null}}},
{"data": {"name": "fc"}, "mark": {"type": "area", "orient": "horizontal", "color": "#0000ff"},
 "encoding": {"x": {"field": "b1", "type": "quantitative", "axis": null}, "x2": {"field": "b2"}, "y": {"field": "d", "type": "temporal", "axis": null}}},
{"data": {"name": "hist"}, "mark": {"type": "line", "orient": "vertical", "color": "#0000ff", "strokeWidth": 10, "strokeJoin": "miter", "strokeMiterLimit": 8},
 "encoding": {
  "x": {"field": "v", "type": "quantitative", "axis": {"orient": "top", "values": [0,1,2,3,4,5,6,7,8,9], "labels": false, "domain": false, "grid": false, "ticks": true, "tickSize": -34, "tickWidth": 2, "tickColor": "black", "title": null}},
  "y": {"field": "d", "type": "temporal",
   "axis": {"orient": "left", "values": [{"year": 2005, "month": 11, "date": 5, "utc": true}, {"year": 2006, "month": 1, "date": 1, "utc": true}, {"year": 2007, "month": 1, "date": 1, "utc": true}], "ticks": false, "domain": false, "grid": false, "labelExpr": "utcFormat(datum.value, '%Y')", "labelAngle": 90, "labelBaseline": "top",
    "labelAlign": {"condition": {"test": "utcyear(datum.value) == 2005", "value": "right"}, "value": "left"},
    "labelOffset": {"condition": {"test": "utcyear(datum.value) == 2005", "value": -23}, "value": 0},
    "labelPadding": 31, "labelFont": "Liberation Mono", "labelFontSize": 34, "labelColor": "black", "labelOverlap": false, "labelBound": false, "labelFlush": false, "title": null}},
  "order": {"field": "d", "type": "temporal"}
 }},
{"mark": {"type": "rule", "color": "black", "strokeWidth": 2}, "encoding": {"x": {"datum": 0, "type": "quantitative", "axis": null}}},
{"data": {"name": "start"}, "mark": {"type": "rule", "color": "#ffff00", "strokeWidth": 5},
 "encoding": {"y": {"field": "d", "type": "temporal", "axis": null}}}
]
},
{
"width": 1250,
"height": 236,
"view": {"stroke": null},
"data": {"name": "legend"},
"layer": [
{"mark": {"type": "rule"},
 "encoding": {
  "x": {"field": "k", "type": "nominal", "sort": null, "scale": {"type": "point", "domain": ["Ennusteen alku", "25-75% Vaihteluväli", "5-95% Vaihteluväli", "Ennust. vaihteluväli", "Laskettu/Keskiennuste"], "range": [960, 1249], "padding": 0}, "axis": null},
  "color": {"field": "k", "type": "nominal", "scale": {"domain": ["Ennusteen alku", "25-75% Vaihteluväli", "5-95% Vaihteluväli", "Ennust. vaihteluväli", "Laskettu/Keskiennuste"], "range": ["#ffff00", "#00ff00", "#ff0000", "#ffff00", "#0000ff"]}, "legend": null},
  "strokeWidth": {"condition": {"test": "datum.k === 'Ennusteen alku'", "value": 5}, "value": 9}
 }},
{"mark": {"type": "text", "angle": 90, "align": "left", "baseline": "bottom", "font": "Liberation Mono", "fontSize": 28, "color": "black", "xOffset": 8},
 "encoding": {
  "x": {"field": "k", "type": "nominal", "axis": null},
  "y": {"value": 4},
  "text": {"field": "k"}
 }}
]
}
]
}
